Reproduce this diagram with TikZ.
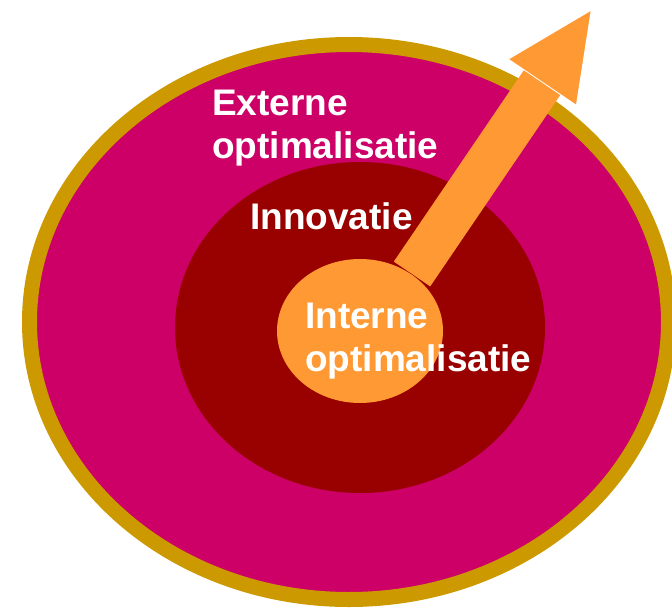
\documentclass[tikz,border=0pt]{standalone}
\usepackage{fontspec}
\setmainfont{Liberation Sans}
\usepackage{tikz}
\definecolor{ringgold}{HTML}{CC9900}
\definecolor{extmagenta}{HTML}{CC0066}
\definecolor{innored}{HTML}{990000}
\definecolor{intorange}{HTML}{FF9933}
\tikzset{
	label/.style={text=white,font=\bfseries\fontsize{37}{43}\selectfont,align=left,inner sep=0pt,anchor=base west}
}
\begin{document}
\begin{tikzpicture}[x=1pt,y=-1pt]
		\useasboundingbox (0,0) rectangle (672,608);
		\draw[line width=15pt,draw=ringgold,fill=extmagenta] (349,322) ellipse [x radius=319.5,y radius=277.5];
		\fill[innored] (360,327.5) ellipse [x radius=185,y radius=165.5];
		\fill[intorange,draw=white,line width=2pt] (507.2,59.1)--(592,9)--(576.8,106.3)--cycle;
		\fill[intorange] (393.8,261.6)--(523.8,70.3)--(560.2,95.1)--(430.2,286.4)--cycle;
		\fill[intorange] (360,331) ellipse [x radius=83,y radius=72];
		\node[label] (externe) at (212,158) {Externe\\optimalisatie};
		\node[label] (innovatie) at (250,229) {Innovatie};
		\node[label] (interne) at (305,371) {Interne\\optimalisatie};
	\end{tikzpicture}
\end{document}
